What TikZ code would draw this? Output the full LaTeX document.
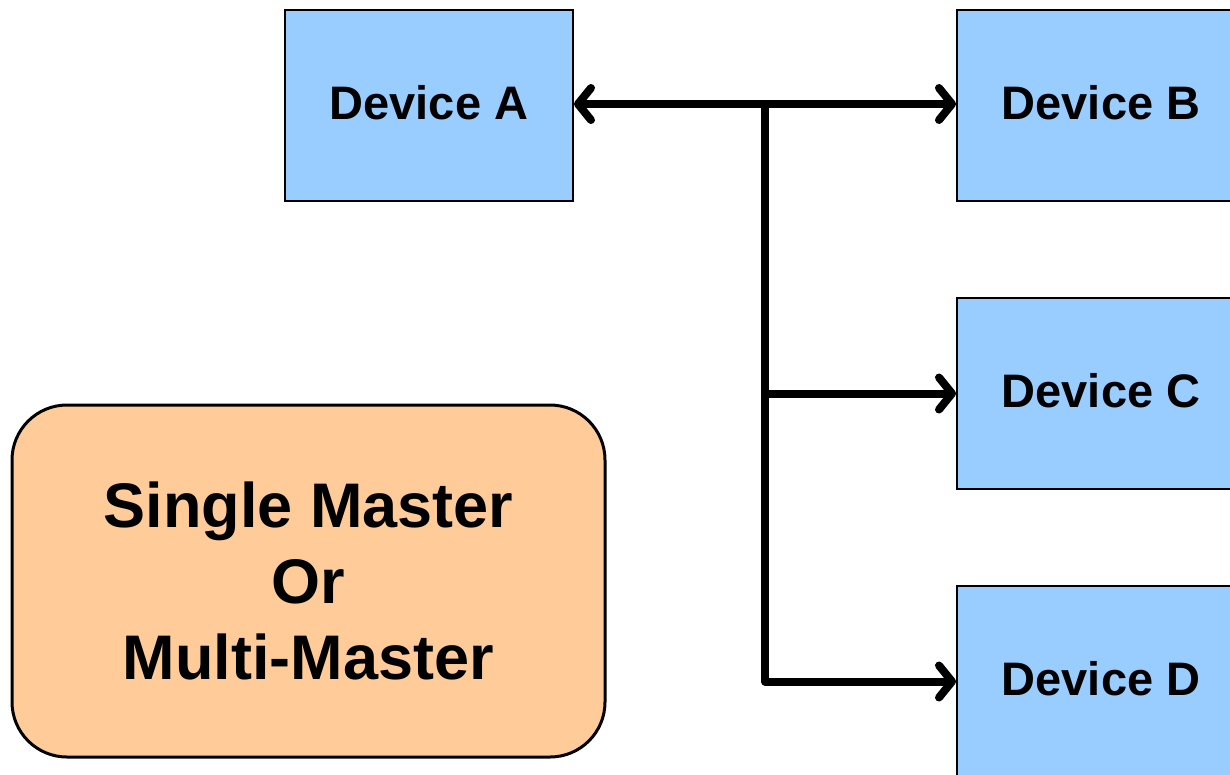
\documentclass[tikz,border=0pt]{standalone}
\usepackage{fontspec}
\setmainfont{Liberation Sans}
\usetikzlibrary{arrows.meta,positioning}
\definecolor{devblue}{HTML}{99CCFF}
\definecolor{masterorange}{HTML}{FFCC99}
\tikzstyle{arrow}=[draw, line width=8pt, line cap=round,
  -{Straight Barb[round,length=13pt,width=32pt]}]
\tikzstyle{device} =
  [rectangle, draw, line width=2pt, fill=devblue,
   minimum width=288pt, minimum height=191pt, text centered, text depth=6pt,
   font=\fontsize{47}{56}\selectfont\bfseries]
\tikzstyle{master} =
  [rectangle, draw, line width=3pt, fill=masterorange, rounded corners=55pt,
   minimum width=593pt, minimum height=352pt, align=center,
   font=\fontsize{63}{76}\selectfont\bfseries]
\begin{document}
\begin{tikzpicture}[x=1pt, y=1pt, node distance=288pt]
  \clip (0,0) rectangle (1230,-774);
  \node [device] (a) at (429,-105.5) {Device A};
  \node [device, right of=a, node distance=672pt] (b) {Device B};
  \node [device, below of=b] (c) {Device C};
  \node [device, below of=c] (d) {Device D};
  \node [master] (m) at (308.5,-581) {Single Master\\Or\\Multi-Master};

  % bus
  \coordinate (bus) at (765,-104);
  \draw [arrow, {Straight Barb[round,length=13pt,width=32pt]}-{Straight Barb[round,length=13pt,width=32pt]}]
    (a.east |- bus) to (b.west |- bus);
  \draw [line width=8pt] (bus) to (bus |- d.west);
  \draw [arrow] (bus |- c.west) to (c.west);
  \draw [arrow] (bus |- d.west) to (d.west);
\end{tikzpicture}
\end{document}
